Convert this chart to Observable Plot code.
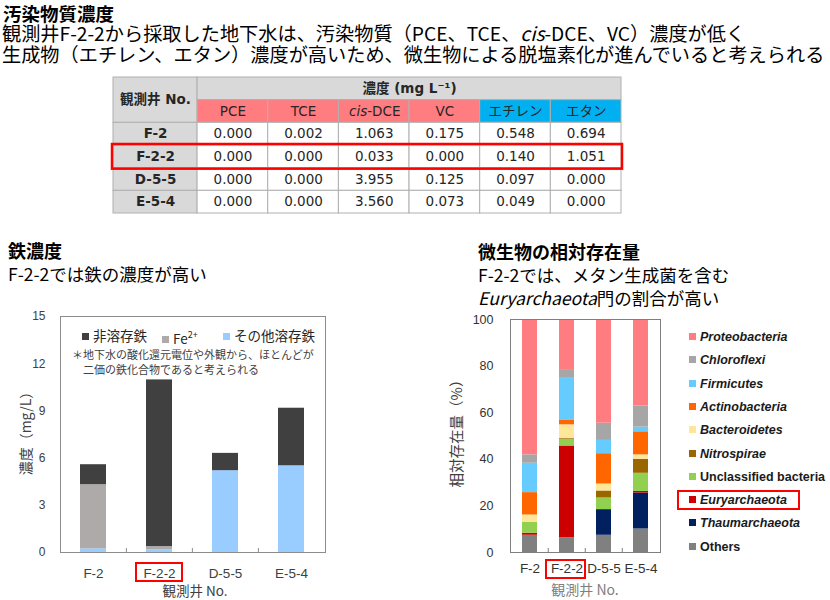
<!DOCTYPE html>
<html><head><meta charset="utf-8">
<script src="https://cdn.jsdelivr.net/npm/d3@7"></script>
<script src="https://cdn.jsdelivr.net/npm/@observablehq/plot@0.6"></script>
<style>
body{margin:0;background:#fff;}
#root{position:relative;width:830px;height:600px;overflow:hidden;font-family:"Noto Sans CJK JP",sans-serif;color:#000;}
.abs{position:absolute;white-space:nowrap;}
.box{position:absolute;border:2px solid #ff0000;box-sizing:border-box;}
.plotwrap{position:absolute;}
.plotwrap svg{display:block;overflow:visible;}
</style></head><body><div id="root"></div>
<script>
// ---------------- DATA ----------------
const wells = ["F-2", "F-2-2", "D-5-5", "E-5-4"];
const highlightWell = "F-2-2";

// Table: concentrations (mg/L) per compound, per well
const compounds = ["PCE", "TCE", "cis-DCE", "VC", "エチレン", "エタン"];
const compoundGroup = ["contaminant", "contaminant", "contaminant", "contaminant", "product", "product"];
const concPCE = [0.000, 0.000, 0.000, 0.000];
const concTCE = [0.002, 0.000, 0.000, 0.000];
const concDCE = [1.063, 0.033, 3.955, 3.560];
const concVC = [0.175, 0.000, 0.125, 0.073];
const concEthene = [0.548, 0.140, 0.097, 0.049];
const concEthane = [0.694, 1.051, 0.000, 0.000];
const concTable = [concPCE, concTCE, concDCE, concVC, concEthene, concEthane];

// Iron (mg/L), stacked bottom -> top
const ironTypes = ["その他溶存鉄", "Fe²⁺", "非溶存鉄"];
const ironLegendLabels = ["その他溶存鉄", "Fe<sup style='font-size:9px'>2+</sup>", "非溶存鉄"];
const ironColors = ["#99CCFF", "#AEAAAA", "#404040"];
const ironOther = [0.23, 0.17, 5.20, 5.51];
const ironFe2 = [4.08, 0.21, 0.00, 0.00];
const ironInsoluble = [1.27, 10.59, 1.10, 3.66];
const ironTicks = [0, 3, 6, 9, 12, 15];

// Microbial relative abundance (%), stacked bottom -> top
const taxa = ["Others", "Thaumarchaeota", "Euryarchaeota", "Unclassified bacteria", "Nitrospirae",
  "Bacteroidetes", "Actinobacteria", "Firmicutes", "Chloroflexi", "Proteobacteria"];
const taxaColors = ["#808080", "#002060", "#CC0000", "#92D050", "#996600",
  "#FFE699", "#FF6600", "#66CCFF", "#A6A6A6", "#FF7C80"];
const taxaItalic = [false, true, true, false, true, true, true, true, true, true];
const abOthers = [7.4, 6.3, 7.4, 10.1];
const abThaum = [0.0, 0.0, 11.0, 15.4];
const abEury = [0.9, 39.4, 0.0, 0.7];
const abUnclass = [4.7, 2.9, 5.0, 7.8];
const abNitro = [0.0, 0.3, 3.0, 6.0];
const abBactero = [3.1, 5.9, 3.0, 1.9];
const abActino = [9.6, 2.1, 13.0, 9.9];
const abFirmi = [12.6, 18.2, 5.7, 2.0];
const abChloro = [3.6, 3.4, 7.4, 9.1];
const abProteo = [58.1, 21.5, 44.5, 37.1];
const abundanceSeries = [abOthers, abThaum, abEury, abUnclass, abNitro, abBactero, abActino, abFirmi, abChloro, abProteo];
const microTicks = [0, 20, 40, 60, 80, 100];

// ---------------- LAYOUT HELPERS ----------------
const root = document.getElementById("root");
function addDiv(html, css, cls = "abs") {
  const d = document.createElement("div");
  d.className = cls;
  d.innerHTML = html;
  Object.assign(d.style, css);
  root.appendChild(d);
  return d;
}
function addPlot(svg, left, top) {
  const w = document.createElement("div");
  w.className = "plotwrap";
  w.style.left = left + "px";
  w.style.top = top + "px";
  w.appendChild(svg);
  root.appendChild(w);
}

// ---------------- TITLES ----------------
addDiv("<b>汚染物質濃度</b>", {left: "3px", top: "0px", fontSize: "18.5px", lineHeight: "27px"});
addDiv("観測井F-2-2から採取した地下水は、汚染物質（PCE、TCE、<i>cis</i>-DCE、VC）濃度が低く<br>生成物（エチレン、エタン）濃度が高いため、微生物による脱塩素化が進んでいると考えられる",
  {left: "2px", top: "23px", fontSize: "19.2px", lineHeight: "21.3px"});

addDiv("<b style='font-size:18px'>鉄濃度</b><br>F-2-2では鉄の濃度が高い",
  {left: "8px", top: "239px", fontSize: "17.5px", lineHeight: "23px"});
addDiv("<b style='font-size:18px'>微生物の相対存在量</b><br>F-2-2では、メタン生成菌を含む<br><i>Euryarchaeota</i>門の割合が高い",
  {left: "478px", top: "240px", fontSize: "17.5px", lineHeight: "23px"});

// ---------------- TABLE (Plot) ----------------
const W0 = 1.19; // width of well column in units of data column
const cells = [];
cells.push({x1: 0, x2: W0, y1: 0, y2: 2, kind: "hdr", label: "観測井 No.", bold: true});
cells.push({x1: W0, x2: W0 + compounds.length, y1: 0, y2: 1, kind: "hdr", label: "濃度 (mg L⁻¹)", bold: true});
compounds.forEach((c, i) => cells.push({x1: W0 + i, x2: W0 + i + 1, y1: 1, y2: 2, kind: compoundGroup[i], label: c, bold: false}));
wells.forEach((w, j) => {
  cells.push({x1: 0, x2: W0, y1: 2 + j, y2: 3 + j, kind: "hdr", label: w, bold: true});
  compounds.forEach((c, i) => cells.push({x1: W0 + i, x2: W0 + i + 1, y1: 2 + j, y2: 3 + j, kind: "value", label: concTable[i][j].toFixed(3), bold: false}));
});
const tableFills = {hdr: "#D9D9D9", contaminant: "#FF7C80", product: "#00B0F0", value: "#FFFFFF"};
const cx = d => (d.x1 + d.x2) / 2, cy = d => (d.y1 + d.y2) / 2;
const plainCells = cells.filter(d => d.label !== "cis-DCE");
const cisCells = cells.filter(d => d.label === "cis-DCE");
const hiRow = 2 + wells.indexOf(highlightWell);
const tableFont = "DejaVu Sans, Noto Sans CJK JP, sans-serif";

const tablePlot = Plot.plot({
  width: 515, height: 143, marginLeft: 3, marginRight: 4, marginTop: 3, marginBottom: 4,
  x: {domain: [0, W0 + compounds.length], axis: null},
  y: {domain: [0, 2 + wells.length], range: [3, 139], axis: null},
  color: {type: "identity"},
  style: {fontFamily: tableFont, background: "transparent", color: "#262626"},
  marks: [
    Plot.rect(cells, {x1: "x1", x2: "x2", y1: "y1", y2: "y2", fill: d => tableFills[d.kind], stroke: "#b0b0b0", strokeWidth: 1}),
    Plot.text(plainCells.filter(d => d.bold), {x: cx, y: cy, text: "label", fontWeight: "bold", fontSize: 13.5, fill: "#262626"}),
    Plot.text(plainCells.filter(d => !d.bold), {x: cx, y: cy, text: "label", fontSize: 13.5, fill: "#262626"}),
    Plot.text(cisCells, {x: cx, y: cy, text: d => "cis", fontStyle: "italic", textAnchor: "end", dx: -7, fontSize: 13.5, fill: "#262626"}),
    Plot.text(cisCells, {x: cx, y: cy, text: d => "-DCE", textAnchor: "start", dx: -7, fontSize: 13.5, fill: "#262626"}),
    Plot.rect([highlightWell], {x1: 0, x2: W0 + compounds.length, y1: hiRow, y2: hiRow + 1, fill: "none", stroke: "#FF0000", strokeWidth: 2.5, inset: -1})
  ]
});
addPlot(tablePlot, 110, 74);

// ---------------- IRON CHART (Plot) ----------------
const ironSeries = [ironOther, ironFe2, ironInsoluble];
const ironRows = ironTypes.flatMap((t, k) => wells.map((w, i) => ({well: w, type: t, value: ironSeries[k][i]})));
const ironW = 340, ironML = 60, ironMR = 15, ironH = 300, ironMT = 16, ironMB = 48;
const ironStep = (ironW - ironML - ironMR) / wells.length;
const ironFrameH = ironH - ironMT - ironMB;
const ironPlot = Plot.plot({
  width: ironW, height: ironH, marginLeft: ironML, marginRight: ironMR, marginTop: ironMT, marginBottom: ironMB,
  style: {fontFamily: "Liberation Sans, Arial, sans-serif", fontSize: "12px", color: "#404040", background: "transparent"},
  x: {domain: wells, paddingInner: 0.6, paddingOuter: 0.3, label: null, axis: null},
  y: {domain: [0, 15], label: null, axis: null},
  color: {domain: ironTypes, range: ironColors},
  marks: [
    Plot.barY(ironRows, {x: "well", y: "value", fill: "type"}),
    Plot.ruleX(wells.slice(1), {dx: -ironStep / 2, insetTop: ironFrameH - 4, stroke: "#8c8c8c"}),
    Plot.frame({stroke: "#8c8c8c"}),
    Plot.axisY({ticks: ironTicks, tickSize: 0, tickPadding: 15, label: null, fontSize: 12}),
    Plot.axisX({tickSize: 0, tickPadding: 16, label: null, fontSize: 13.5})
  ]
});
addPlot(ironPlot, 0, 300);

// iron legend (inside frame)
const ironLegendLeft = [223, 162, 82];
ironTypes.forEach((t, k) => {
  addDiv(`<span style="display:inline-block;width:7px;height:7px;background:${ironColors[k]};margin-right:4px;vertical-align:1px"></span>${ironLegendLabels[k]}`,
    {left: ironLegendLeft[k] + "px", top: "326px", fontSize: "13.5px", lineHeight: "18px", color: "#262626"});
});
addDiv("＊地下水の酸化還元電位や外観から、ほとんどが<br><span style='padding-left:11px'>二価の鉄化合物であると考えられる</span>",
  {left: "72px", top: "347px", fontSize: "11px", lineHeight: "14.5px", color: "#404040"});

addDiv("観測井 No.", {left: "195px", top: "590px", transform: "translate(-50%,-50%)", fontSize: "13.5px", lineHeight: "16px", color: "#404040"});
addDiv("濃度（mg/L）", {left: "25px", top: "430px", transform: "translate(-50%,-50%) rotate(-90deg)", fontSize: "14px", color: "#404040"});
addDiv("", {left: "135px", top: "562px", width: "48px", height: "20px"}, "box");

// ---------------- MICROBIAL CHART (Plot) ----------------
const microRows = taxa.flatMap((t, k) => wells.map((w, i) => ({well: w, taxon: t, value: abundanceSeries[k][i]})));
const mW = 230, mML = 70, mMR = 10, mH = 295, mMT = 14, mMB = 48;
const mStep = (mW - mML - mMR) / wells.length;
const mFrameH = mH - mMT - mMB;
const microPlot = Plot.plot({
  width: mW, height: mH, marginLeft: mML, marginRight: mMR, marginTop: mMT, marginBottom: mMB,
  style: {fontFamily: "Liberation Sans, Arial, sans-serif", fontSize: "12px", color: "#333", background: "transparent"},
  x: {domain: wells, paddingInner: 0.6, paddingOuter: 0.3, label: null, axis: null},
  y: {domain: [0, 100], label: null, axis: null},
  color: {domain: taxa, range: taxaColors},
  marks: [
    Plot.barY(microRows, {x: "well", y: "value", fill: "taxon"}),
    Plot.ruleX(wells.slice(1), {dx: -mStep / 2, insetTop: mFrameH - 4, stroke: "#7f7f7f"}),
    Plot.frame({stroke: "#7f7f7f"}),
    Plot.axisY({ticks: microTicks, tickSize: 0, tickPadding: 17, label: null, fontSize: 12.5}),
    Plot.axisX({tickSize: 0, tickPadding: 11, label: null, fontSize: 13.5})
  ]
});
addPlot(microPlot, 440, 305);

addDiv("観測井 No.", {left: "585px", top: "589px", transform: "translate(-50%,-50%)", fontSize: "14px", lineHeight: "16px", color: "#7f7f7f"});
addDiv("相対存在量（%）", {left: "455px", top: "430px", transform: "translate(-50%,-50%) rotate(-90deg)", fontSize: "14.5px", color: "#404040"});
addDiv("", {left: "545px", top: "559px", width: "41px", height: "20px"}, "box");

// micro legend (top-of-stack first)
const legendOrder = taxa.map((t, k) => k).reverse();
legendOrder.forEach((k, pos) => {
  const yc = 337 + 23.3 * pos;
  const name = taxaItalic[k] ? `<i>${taxa[k]}</i>` : taxa[k];
  addDiv(`<span style="display:inline-block;width:7px;height:7px;background:${taxaColors[k]};margin-right:4px;vertical-align:1px"></span>${name}`,
    {left: "689px", top: (yc - 8) + "px", lineHeight: "16px", fontSize: "12.5px", fontWeight: "bold", fontFamily: "Liberation Sans, Arial, sans-serif", color: "#1a1a1a"});
});
const euryPos = legendOrder.indexOf(taxa.indexOf("Euryarchaeota"));
addDiv("", {left: "677px", top: (337 + 23.3 * euryPos - 10) + "px", width: "123px", height: "20px"}, "box");
</script></body></html>
